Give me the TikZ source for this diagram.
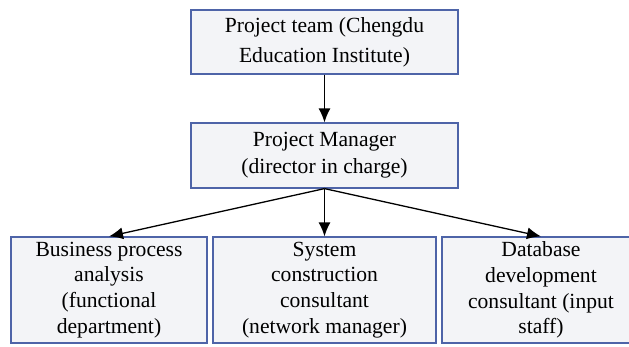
\documentclass[tikz,border=0pt]{standalone}
\usepackage{fontspec}
\setmainfont{Liberation Serif}
\usetikzlibrary{arrows.meta}
\definecolor{boxblue}{RGB}{78,100,168}
\definecolor{boxfill}{RGB}{243,244,247}

\begin{document}
\begin{tikzpicture}[x=0.5pt, y=-0.5pt,
    box/.style={draw=boxblue, line width=0.6pt, fill=boxfill, rectangle, align=center, inner sep=0pt, font=\fontsize{10.8}{12.9}\selectfont},
    link/.style={-{Latex[length=7pt,width=6pt]}, line width=0.65pt}]
    \useasboundingbox (0,0) rectangle (629,347);

    \node[box, minimum width=133.5pt, minimum height=32pt, font=\fontsize{10.8}{15}\selectfont] (team) at (324.5,42) {Project team (Chengdu\\Education Institute)};
    \node[box, minimum width=133.5pt, minimum height=32.5pt, font=\fontsize{10.8}{13.5}\selectfont] (mgr) at (324.5,155.5) {Project Manager\\(director in charge)};

    \node[box, minimum width=98pt, minimum height=53pt] (bpa) at (109,290) {Business process\\analysis\\(functional\\department)};
    \node[box, minimum width=111.5pt, minimum height=53pt] (sys) at (324.5,290) {System\\construction\\consultant\\(network manager)};
    \node[box, minimum width=99pt, minimum height=53pt] (dbd) at (541,290) {Database\\development\\consultant (input\\staff)};

    \draw[link] (team) -- (mgr);
    \draw[link] (mgr.south) -- (bpa.north);
    \draw[link] (mgr.south) -- (sys.north);
    \draw[link] (mgr.south) -- (dbd.north);
\end{tikzpicture}
\end{document}
